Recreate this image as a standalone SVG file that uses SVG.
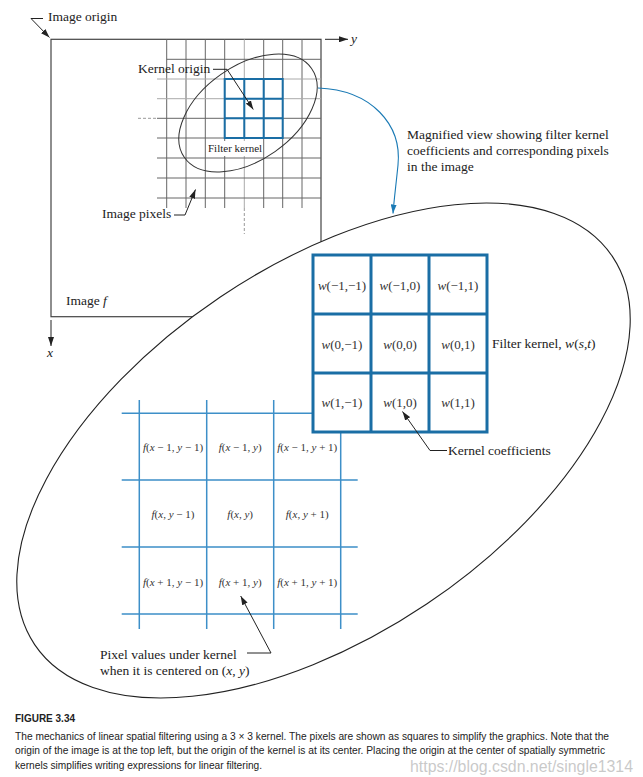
<svg xmlns="http://www.w3.org/2000/svg" width="643" height="777" viewBox="0 0 643 777">
<style>
.lbl{font-family:"Liberation Serif","Times New Roman",serif;font-size:13.5px;fill:#222}
.sm{font-size:11px}
.cell{font-family:"Liberation Serif","Times New Roman",serif;font-size:13px;fill:#333;text-anchor:middle}
.fx{font-family:"Liberation Serif","Times New Roman",serif;font-size:11px;fill:#333;text-anchor:middle}
.i{font-style:italic}
.grid{stroke:#666;stroke-width:1;fill:none}
.lgrid{stroke:#aaa;stroke-width:1;fill:none}
.dash{stroke:#999;stroke-width:1;stroke-dasharray:3 2;fill:none}
.kern{fill:#fff;stroke:#1a6ea5}
.pgrid{stroke:#3d8fc8;stroke-width:1.5;fill:none}
.conn{fill:none;stroke:#222;stroke-width:1}
.cap{font-family:"Liberation Sans",Arial,sans-serif;font-size:10px;fill:#222}
</style>
<defs>
<marker id="ah" markerUnits="userSpaceOnUse" markerWidth="9" markerHeight="6" refX="9" refY="3" orient="auto">
<path d="M0,0 L9,3 L0,6 z" fill="#222"/>
</marker>
<marker id="ahb" markerUnits="userSpaceOnUse" markerWidth="9" markerHeight="6" refX="9" refY="3" orient="auto">
<path d="M0,0 L9,3 L0,6 z" fill="#1a7ab5"/>
</marker>
</defs>
<rect width="643" height="777" fill="#fff"/>

<g id="image-f">
<rect x="51" y="39.3" width="270" height="277.4" fill="none" stroke="#444" stroke-width="1.2"/>
<g id="pixel-grid-small">
<path class="grid" d="M166.7,39.3V208 M186,39.3V208 M205.3,39.3V208 M224.7,39.3V208 M263.7,39.3V208 M282.7,39.3V208 M302,39.3V208"/>
<path class="lgrid" d="M244.3,39.3V208"/>
<path class="grid" d="M166.7,59.3H321 M157,118.3H321 M157,138H321 M157,158H321 M157,178H321 M157,198H321"/>
<path class="lgrid" d="M157,79H321 M157,98.7H321"/>
<path class="dash" d="M138,118.3H157 M244.3,208V234"/>
</g>
<g id="kernel-small">
<rect class="kern" x="224.7" y="79" width="58" height="59" fill="none" style="fill:none" stroke-width="2"/>
<path d="M244.3,79V138 M263.7,79V138 M224.7,98.7H282.7 M224.7,118.3H282.7" fill="none" stroke="#1a6ea5" stroke-width="2"/>
</g>
<ellipse cx="248" cy="113" rx="77.6" ry="47.1" transform="rotate(-35 248 113)" fill="none" stroke="#333" stroke-width="1"/>
<rect x="206.5" y="141" width="56" height="15" fill="#fff"/>
<text class="lbl sm" x="208" y="152">Filter kernel</text>
<text class="lbl" x="48" y="21">Image origin</text>
<text class="lbl" x="138" y="73">Kernel origin</text>
<text class="lbl" x="102" y="218">Image pixels</text>
<text class="lbl" x="66" y="305">Image <tspan class="i">f</tspan></text>
<text class="lbl i" x="351" y="43">y</text>
<text class="lbl i" x="47" y="357">x</text>
</g>

<g id="magnified-view">
<ellipse cx="323.5" cy="450.5" rx="348" ry="185" transform="rotate(-33.9 323.5 450.5)" fill="#fff" stroke="#222" stroke-width="1.1"/>
<g id="pixel-grid">
<path class="pgrid" d="M139.3,400V629 M206.7,400V629 M273.7,400V629 M340.7,400V629"/>
<path class="pgrid" d="M121.7,413.3H357.7 M121.7,480H357.7 M121.7,547H357.7 M121.7,614H357.7"/>
<text class="fx" x="173" y="450.5"><tspan class="i">f</tspan>(<tspan class="i">x</tspan> − 1, <tspan class="i">y</tspan> − 1)</text>
<text class="fx" x="240.2" y="450.5"><tspan class="i">f</tspan>(<tspan class="i">x</tspan> − 1, <tspan class="i">y</tspan>)</text>
<text class="fx" x="307.2" y="450.5"><tspan class="i">f</tspan>(<tspan class="i">x</tspan> − 1, <tspan class="i">y</tspan> + 1)</text>
<text class="fx" x="173" y="518"><tspan class="i">f</tspan>(<tspan class="i">x</tspan>, <tspan class="i">y</tspan> − 1)</text>
<text class="fx" x="240.2" y="518"><tspan class="i">f</tspan>(<tspan class="i">x</tspan>, <tspan class="i">y</tspan>)</text>
<text class="fx" x="307.2" y="518"><tspan class="i">f</tspan>(<tspan class="i">x</tspan>, <tspan class="i">y</tspan> + 1)</text>
<text class="fx" x="173" y="585.5"><tspan class="i">f</tspan>(<tspan class="i">x</tspan> + 1, <tspan class="i">y</tspan> − 1)</text>
<text class="fx" x="240.2" y="585.5"><tspan class="i">f</tspan>(<tspan class="i">x</tspan> + 1, <tspan class="i">y</tspan>)</text>
<text class="fx" x="307.2" y="585.5"><tspan class="i">f</tspan>(<tspan class="i">x</tspan> + 1, <tspan class="i">y</tspan> + 1)</text>
</g>
<g id="kernel-large">
<rect class="kern" x="313" y="255" width="174" height="177" stroke-width="3"/>
<path d="M371,255V432 M429,255V432 M313,314H487 M313,373H487" fill="none" stroke="#1a6ea5" stroke-width="3"/>
<text class="cell" x="342" y="289.5"><tspan class="i">w</tspan>(−1,−1)</text>
<text class="cell" x="400" y="289.5"><tspan class="i">w</tspan>(−1,0)</text>
<text class="cell" x="458" y="289.5"><tspan class="i">w</tspan>(−1,1)</text>
<text class="cell" x="342" y="348.5"><tspan class="i">w</tspan>(0,−1)</text>
<text class="cell" x="400" y="348.5"><tspan class="i">w</tspan>(0,0)</text>
<text class="cell" x="458" y="348.5"><tspan class="i">w</tspan>(0,1)</text>
<text class="cell" x="342" y="406.5"><tspan class="i">w</tspan>(1,−1)</text>
<text class="cell" x="400" y="406.5"><tspan class="i">w</tspan>(1,0)</text>
<text class="cell" x="458" y="406.5"><tspan class="i">w</tspan>(1,1)</text>
</g>
<text class="lbl" x="492" y="348">Filter kernel, <tspan class="i">w</tspan>(<tspan class="i">s</tspan>,<tspan class="i">t</tspan>)</text>
<text class="lbl" x="448" y="455">Kernel coefficients</text>
<text class="lbl" x="100" y="659">Pixel values under kernel</text>
<text class="lbl" x="100" y="675">when it is centered on (<tspan class="i">x</tspan>, <tspan class="i">y</tspan>)</text>
</g>

<g id="magnify-label">
<text class="lbl" x="407" y="139">Magnified view showing filter kernel</text>
<text class="lbl" x="407" y="155">coefficients and corresponding pixels</text>
<text class="lbl" x="407" y="171">in the image</text>
</g>

<g id="connectors">
<path class="conn" d="M325,39.3H348" marker-end="url(#ah)"/>
<path class="conn" d="M51,320V346" marker-end="url(#ah)"/>
<path class="conn" d="M43,18.5H31L49.5,37.5" marker-end="url(#ah)"/>
<path class="conn" d="M213,69.3H227L253.3,109.5" marker-end="url(#ah)"/>
<path class="conn" d="M174,215H185L195.5,189.5" marker-end="url(#ah)"/>
<path class="conn" d="M447,450.5H430L402.5,411.5" marker-end="url(#ah)"/>
<path class="conn" d="M247,653H271L240.7,596" marker-end="url(#ah)"/>
<path d="M318,88 C372,90 402,125 398,165 C396,185 394,200 393,213.5" fill="none" stroke="#1a7ab5" stroke-width="1.1" marker-end="url(#ahb)"/>
</g>

<g id="caption">
<text class="cap" x="15" y="722" font-weight="bold">FIGURE 3.34</text>
<text class="cap" x="15" y="739.5" textLength="594" lengthAdjust="spacingAndGlyphs">The mechanics of linear spatial filtering using a 3 × 3 kernel. The pixels are shown as squares to simplify the graphics. Note that the</text>
<text class="cap" x="15" y="754" textLength="590" lengthAdjust="spacingAndGlyphs">origin of the image is at the top left, but the origin of the kernel is at its center. Placing the origin at the center of spatially symmetric</text>
<text class="cap" x="15" y="768.5" textLength="247" lengthAdjust="spacingAndGlyphs">kernels simplifies writing expressions for linear filtering.</text>
<text x="410" y="772" font-family="'Liberation Sans',Arial,sans-serif" font-size="16" fill="#bbb" fill-opacity="0.8" textLength="223" lengthAdjust="spacingAndGlyphs">https://blog.csdn.net/single1314</text>
</g>
</svg>
